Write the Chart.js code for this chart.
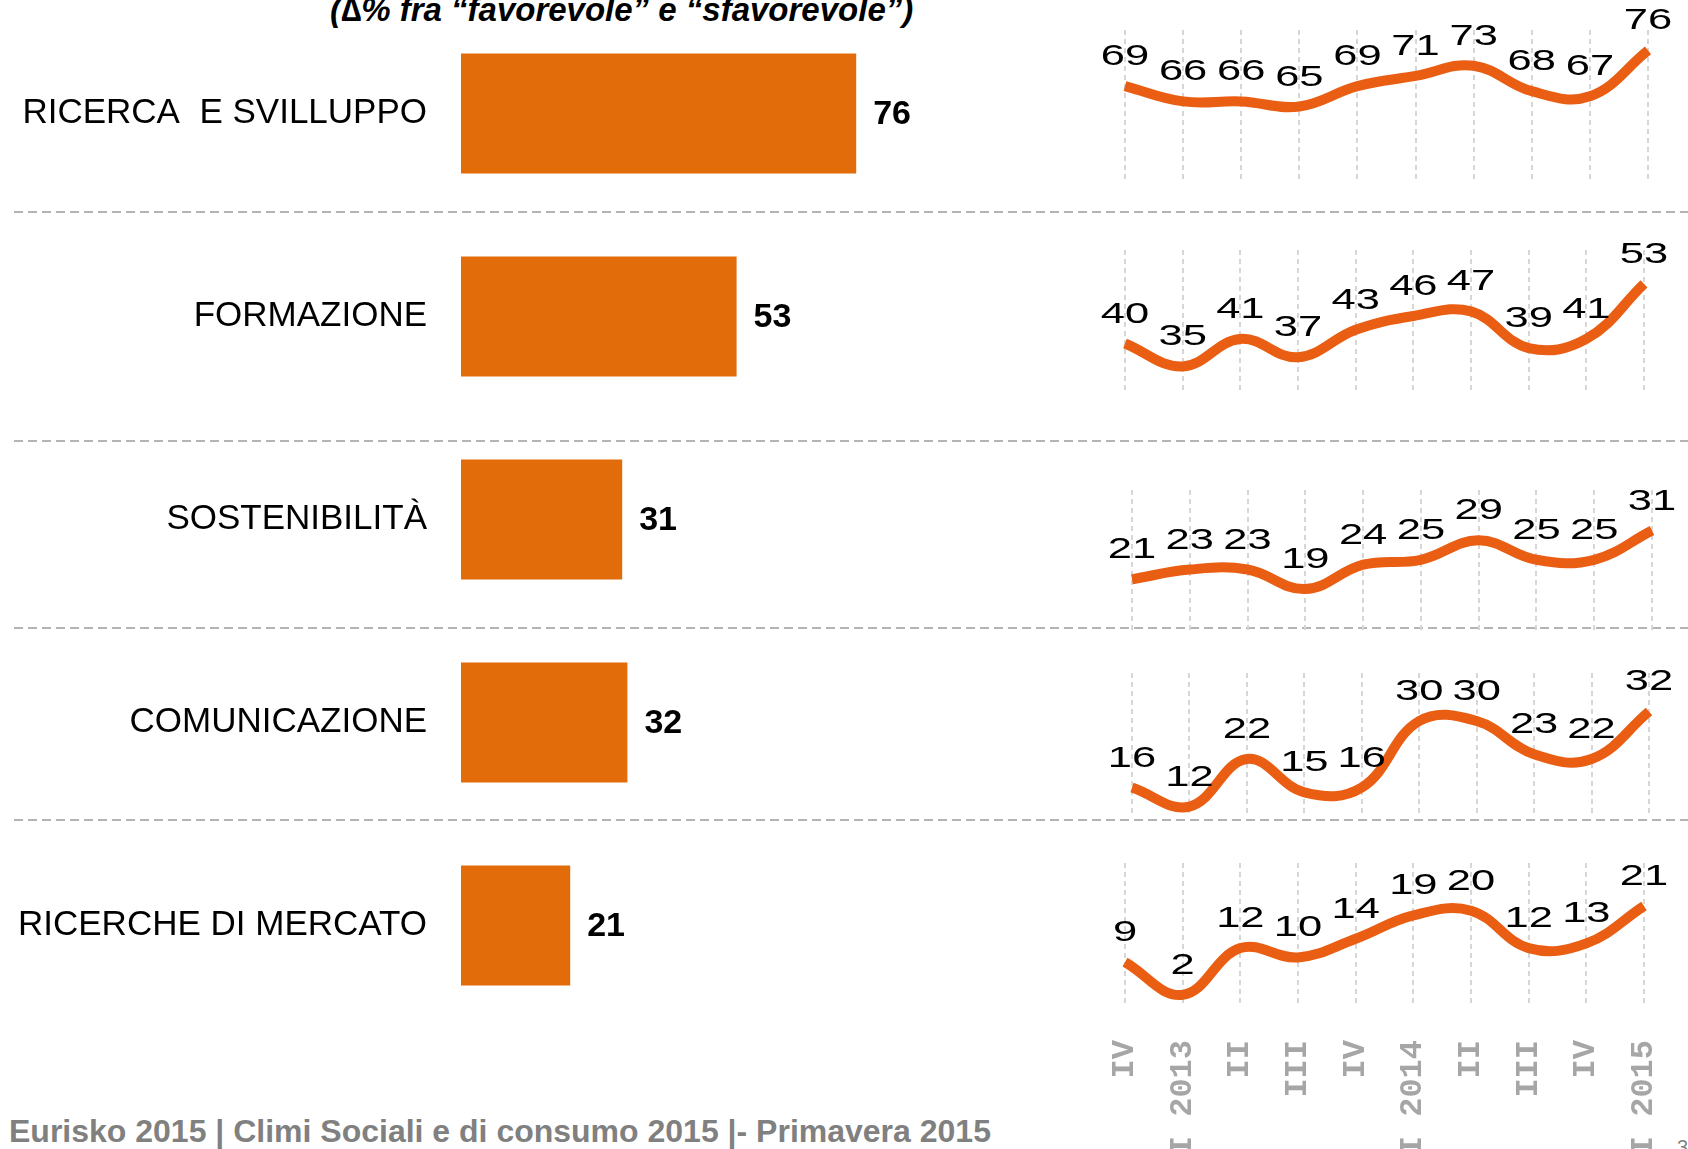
<!DOCTYPE html>
<html>
<head>
<meta charset="utf-8">
<script src="https://cdn.jsdelivr.net/npm/chart.js@4.4.1/dist/chart.umd.min.js"></script>
<style>
  html, body { margin: 0; padding: 0; background: #fff; }
  body { width: 1688px; height: 1149px; overflow: hidden; position: relative; }
  canvas { position: absolute; }
  .sep {
    position: absolute; left: 14px; width: 1674px; height: 2px;
    background: repeating-linear-gradient(to right, #b4b4b4 0 9px, transparent 9px 14px);
  }
  #subtitle {
    position: absolute; left: 330px; top: -7px; white-space: nowrap;
    font: italic bold 33px/34px "Liberation Sans", Arial, sans-serif; color: #000;
  }
  #source {
    position: absolute; left: 9px; top: 1115px; white-space: nowrap;
    font: bold 32px/32px "Liberation Sans", Arial, sans-serif; color: #808080;
  }
  #page {
    position: absolute; left: 1677px; top: 1137px;
    font: 20px/20px "Liberation Sans", Arial, sans-serif; color: #808080;
  }
</style>
</head>
<body>
<div id="subtitle">(∆% fra “favorevole” e “sfavorevole”)</div>

<canvas id="barChart" width="1000" height="1040" style="left:0;top:0"></canvas>

<div class="sep" style="top:211px"></div>
<div class="sep" style="top:440px"></div>
<div class="sep" style="top:627px"></div>
<div class="sep" style="top:819px"></div>

<div id="source">Eurisko 2015 | Climi Sociali e di consumo 2015 |- Primavera 2015</div>
<div id="page">3</div>

<script>
// Categories and values
const areas = ['RICERCA  E SVILLUPPO', 'FORMAZIONE', 'SOSTENIBILITÀ', 'COMUNICAZIONE', 'RICERCHE DI MERCATO'];
const latestValues = [76, 53, 31, 32, 21];

const quarters = ['IV', 'I 2013', 'II', 'III', 'IV', 'I 2014', 'II', 'III', 'IV', 'I 2015'];

const ricercaTrend = [69, 66, 66, 65, 69, 71, 73, 68, 67, 76];
const formazioneTrend = [40, 35, 41, 37, 43, 46, 47, 39, 41, 53];
const sostenibilitaTrend = [21, 23, 23, 19, 24, 25, 29, 25, 25, 31];
const comunicazioneTrend = [16, 12, 22, 15, 16, 30, 30, 23, 22, 32];
const mercatoTrend = [9, 2, 12, 10, 14, 19, 20, 12, 13, 21];

const trends = [ricercaTrend, formazioneTrend, sostenibilitaTrend, comunicazioneTrend, mercatoTrend];

// Layout of the small trend charts (plot box in page pixels + y range)
const trendBoxes = [
    { left: 1125, right: 1648, top: 30,  bottom: 183,  yMin: 50.0, yMax: 80.0 },
    { left: 1125, right: 1644, top: 250, bottom: 393,  yMin: 29.2, yMax: 60.4 },
    { left: 1132, right: 1652, top: 490, bottom: 633,  yMin: 10.0, yMax: 39.3 },
    { left: 1132, right: 1649, top: 673, bottom: 817,  yMin: 9.8,  yMax: 40.1 },
    { left: 1125, right: 1644, top: 863, bottom: 1007, yMin: -0.6, yMax: 30.2 }
];

const BAR_COLOR = '#E36C0A';
const LINE_COLOR = '#EA5E13';
const SANS = '"Liberation Sans", Arial, sans-serif';

Chart.defaults.devicePixelRatio = 1;

// Bold value written after each bar
const barValueLabels = {
    id: 'barValueLabels',
    afterDatasetsDraw(chart) {
        const ctx = chart.ctx;
        const meta = chart.getDatasetMeta(0);
        const values = chart.data.datasets[0].data;
        ctx.save();
        ctx.font = 'bold 34px ' + SANS;
        ctx.fillStyle = '#000';
        ctx.textAlign = 'left';
        ctx.textBaseline = 'middle';
        meta.data.forEach((bar, i) => {
            ctx.fillText(String(values[i]), bar.x + 17, bar.y + 1);
        });
        ctx.restore();
    }
};

// Value written above each point of a trend line (stretched like the original)
const pointValueLabels = {
    id: 'pointValueLabels',
    afterDatasetsDraw(chart) {
        const ctx = chart.ctx;
        const meta = chart.getDatasetMeta(0);
        const values = chart.data.datasets[0].data;
        ctx.save();
        ctx.font = '30px ' + SANS;
        ctx.fillStyle = '#000';
        ctx.textAlign = 'center';
        ctx.textBaseline = 'alphabetic';
        meta.data.forEach((pt, i) => {
            ctx.save();
            ctx.translate(pt.x, pt.y - 21);
            ctx.scale(1.45, 1);
            ctx.fillText(String(values[i]), 0, 0);
            ctx.restore();
        });
        ctx.restore();
    }
};

// Horizontal bar chart on the left
new Chart(document.getElementById('barChart'), {
    type: 'bar',
    data: {
        labels: areas,
        datasets: [{
            data: latestValues,
            backgroundColor: BAR_COLOR,
            barPercentage: 0.59,
            categoryPercentage: 1.0
        }]
    },
    options: {
        indexAxis: 'y',
        responsive: false,
        animation: false,
        layout: { padding: { top: 12, bottom: 13, left: 0, right: 19 } },
        plugins: { legend: { display: false }, tooltip: { enabled: false } },
        scales: {
            x: { display: false, min: 0, max: 100 },
            y: {
                grid: { display: false, drawTicks: false },
                border: { display: false },
                ticks: {
                    padding: 34,
                    autoSkip: false,
                    color: '#000',
                    font: { family: SANS, size: 35 }
                },
                afterFit(scale) {
                    scale.width = 461;
                    scale.paddingTop = 0;
                    scale.paddingBottom = 0;
                }
            }
        }
    },
    plugins: [barValueLabels]
});

// Trend lines on the right, one small chart per area
const PAD_X = 40;
const PAD_TOP = 30;
const AXIS_H = 150;

trends.forEach((series, idx) => {
    const box = trendBoxes[idx];
    const isLast = idx === trends.length - 1;
    const canvas = document.createElement('canvas');
    const w = box.right - box.left + PAD_X * 2;
    const h = box.bottom - box.top + PAD_TOP + (isLast ? AXIS_H : 0);
    canvas.width = w;
    canvas.height = h;
    canvas.style.left = (box.left - PAD_X) + 'px';
    canvas.style.top = (box.top - PAD_TOP) + 'px';
    document.body.appendChild(canvas);

    new Chart(canvas, {
        type: 'line',
        data: {
            labels: quarters,
            datasets: [{
                data: series,
                borderColor: LINE_COLOR,
                borderWidth: 10,
                borderCapStyle: 'butt',
                tension: 0.4,
                pointRadius: 0,
                fill: false
            }]
        },
        options: {
            responsive: false,
            animation: false,
            layout: { padding: { top: PAD_TOP, left: PAD_X, right: PAD_X, bottom: 0 } },
            plugins: { legend: { display: false }, tooltip: { enabled: false } },
            scales: {
                x: {
                    offset: false,
                    grid: { display: true, color: '#d6d6d6', lineWidth: 2, drawTicks: false },
                    border: { display: false, dash: [5, 4] },
                    ticks: {
                        display: isLast,
                        autoSkip: false,
                        minRotation: 90,
                        maxRotation: 90,
                        padding: 33,
                        color: '#a6a6a6',
                        font: { family: '"Liberation Mono", "Courier New", monospace', size: 32, weight: 'bold' }
                    },
                    afterFit(scale) {
                        scale.height = isLast ? AXIS_H : 0;
                        scale.paddingLeft = 0;
                        scale.paddingRight = 0;
                    }
                },
                y: { display: false, min: box.yMin, max: box.yMax }
            }
        },
        plugins: [pointValueLabels]
    });
});
</script>
</body>
</html>
